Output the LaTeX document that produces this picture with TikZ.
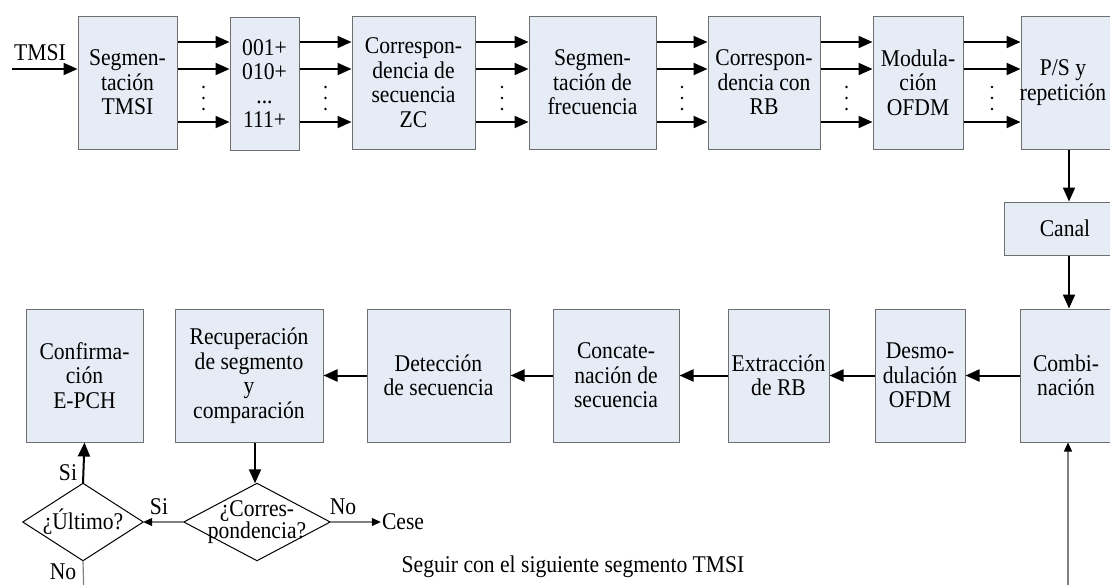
\documentclass[tikz,border=0pt]{standalone}
\usepackage{fontspec}
\setmainfont{Liberation Serif}[FakeStretch=0.9]
\usetikzlibrary{arrows.meta,calc}
\definecolor{boxfill}{RGB}{230,236,246}
\definecolor{boxline}{RGB}{110,110,110}

\begin{document}
\begin{tikzpicture}[x=1pt,y=-1pt,
    blk/.style={draw=boxline,fill=boxfill,line width=1pt,minimum height=133pt,inner sep=0pt,align=center,font=\fontsize{24}{24.5}\selectfont},
    dec/.style={minimum width=146pt,minimum height=77pt,inner sep=0pt,align=center,font=\fontsize{24}{22}\selectfont},
    lbl/.style={inner sep=1pt,font=\fontsize{24}{24}\selectfont},
    thickarrow/.style={line width=2pt,-{Triangle[length=14pt,width=12pt]}},
    thinarrow/.style={draw=gray,line width=1.2pt,-{Triangle[length=9pt,width=8pt,color=black]}}]
    \useasboundingbox (0,0) rectangle (1110,584);  %fix page size
    \clip (0,0) rectangle (1110,584);

    % emitter row
    \node[blk,minimum width=99pt]  (seg)  at (127.5,82.5) {Segmen-\\tación\\TMSI};
    \node[blk,minimum width=69pt,font=\fontsize{24}{24}\selectfont] (bits) at (264.5,84) {001+\\010+\\...\\111+};
    \node[blk,minimum width=123pt] (zc)   at (413.5,82.5) {Correspon-\\dencia de\\secuencia\\ZC};
    \node[blk,minimum width=127pt] (freq) at (592.5,82.5) {Segmen-\\tación de\\frecuencia};
    \node[blk,minimum width=112pt] (rb)   at (764,82.5)   {Correspon-\\dencia con\\RB};
    \node[blk,minimum width=90pt]  (ofdm) at (918,82.5)   {Modula-\\ción\\OFDM};
    \node[blk,minimum width=96pt]  (ps)   at (1069,82.5)  {\hspace*{-12pt}P/S y\\\hspace*{-12pt}repetición};

    \node[blk,minimum width=130pt,minimum height=53pt] (canal) at (1069,228.5) {\hspace*{-8pt}Canal};

    % receiver row
    \node[blk,minimum width=98pt]  (comb)    at (1069,375.5) {\hspace*{-6pt}Combi-\\\hspace*{-6pt}nación};
    \node[blk,minimum width=90pt]  (demod)   at (920,375.5)  {Desmo-\\dulación\\OFDM};
    \node[blk,minimum width=101pt] (extr)    at (778.5,375.5) {Extracción\\de RB};
    \node[blk,minimum width=126pt] (concat)  at (616,375.5)  {Concate-\\nación de\\secuencia};
    \node[blk,minimum width=143pt] (detect)  at (438.5,375.5) {Detección\\de secuencia};
    \node[blk,minimum width=148pt] (recup)   at (249,375.5)  {Recuperación\\de segmento\\y\\comparación};
    \node[blk,minimum width=117pt] (confirm) at (84.5,375.5) {Confirma-\\ción\\E-PCH};

    % decisions
    \node[dec] (match) at (257,522) {¿Corres-\\pondencia?};
    \node[dec,minimum width=120pt] (last) at (83,522) {¿Último?};
    \foreach \d in {match,last}
        \draw[line width=1pt] (\d.north) -- (\d.east) -- (\d.south) -- (\d.west) -- cycle;

    % input
    \coordinate (in) at (12,69);
    \node[lbl] (tmsi) at (40,53) {TMSI};
    \draw[thickarrow] (in) -- (seg.west |- in);

    % parallel branches
    \foreach \a/\b in {seg/bits,bits/zc,zc/freq,freq/rb,rb/ofdm,ofdm/ps}{
        \foreach \y in {42,69,122}
            \draw[thickarrow] (\a.east |- 0,\y) -- (\b.west |- 0,\y);
        \coordinate (m) at ($(\a.east)!0.5!(\b.west)$);
        \foreach \y in {87,98,109}
            \fill (m |- 0,\y) circle (1.3pt);
    }

    \draw[thickarrow] (ps) -- (canal);
    \draw[thickarrow] (canal) -- (comb);
    \foreach \a/\b in {comb/demod,demod/extr,extr/concat,concat/detect,detect/recup}
        \draw[thickarrow] (\a) -- (\b);

    \draw[thickarrow] ([xshift=-2pt]match.north |- recup.south) -- ([xshift=-2pt]match.north);
    \draw[thickarrow] (last.north) -- (confirm.south);
    \draw[thinarrow] (match.west) -- (last.east);

    \node[lbl] (cese) at (403,522) {Cese};
    \draw[thinarrow] (match.east) -- (cese.west);

    \node[lbl] (si1) at (68,473) {Si};
    \node[lbl] (si2) at (159,507) {Si};
    \node[lbl] (no1) at (343,507) {No};
    \node[lbl] (no2) at (63,572) {No};

    % loop back to next segment
    \coordinate (loopa) at (84,600);
    \coordinate (loopb) at (1068,600);
    \draw[draw=gray,line width=1.2pt] (last.south) -- (loopa);
    \draw[thinarrow] (loopb) -- (comb.south -| loopb);
    \node[lbl] (next) at (573,567) {Seguir con el siguiente segmento TMSI};
\end{tikzpicture}
\end{document}
